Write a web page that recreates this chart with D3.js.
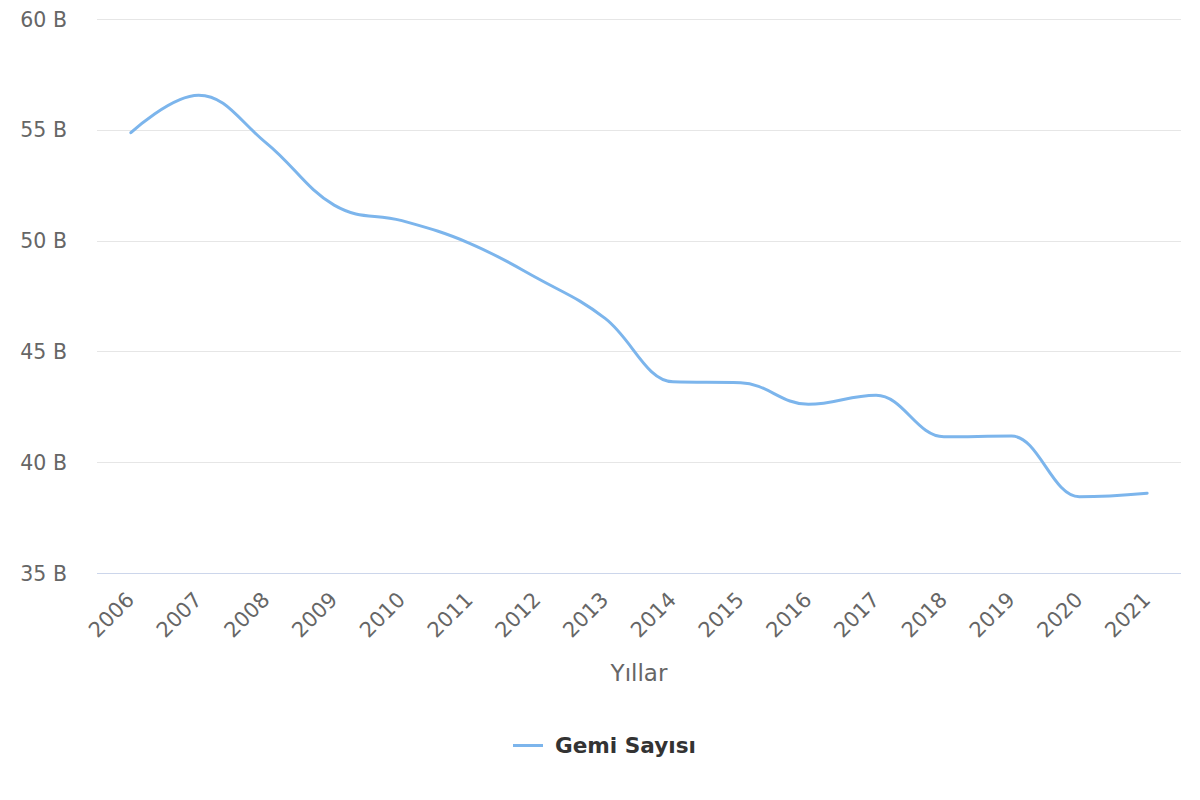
<!DOCTYPE html>
<html>
<head>
<meta charset="utf-8">
<script src="https://cdn.jsdelivr.net/npm/d3@7"></script>
<style>
  html, body { margin: 0; padding: 0; background: #fff; }
  svg { display: block; font-family: "DejaVu Sans", sans-serif; }
</style>
</head>
<body>
<svg id="chart" width="1200" height="800"></svg>
<script>
// ---- data ----
const years = ["2006","2007","2008","2009","2010","2011","2012","2013","2014","2015","2016","2017","2018","2019","2020","2021"];
const gemiSayisi = [54.87, 56.56, 54.4, 51.6, 50.9, 49.88, 48.3, 46.49, 43.63, 43.59, 42.61, 43.02, 41.15, 41.18, 38.44, 38.6];
const yTicks = [35, 40, 45, 50, 55, 60];
const seriesName = "Gemi Sayısı";
const xTitle = "Yıllar";
const tickSuffix = " B";

// ---- layout ----
const W = 1200, H = 800;
const plot = { left: 97, right: 1181, top: 19, bottom: 573 };
const lineColor = "#7cb5ec";

const svg = d3.select("#chart");

const x = d3.scalePoint().domain(years).range([plot.left, plot.right]).padding(0.5);
const y = d3.scaleLinear().domain([35, 60]).range([plot.bottom, plot.top]);

// gridlines
svg.append("g").selectAll("line")
  .data(yTicks.filter(t => t !== 35))
  .join("line")
  .attr("x1", plot.left).attr("x2", plot.right)
  .attr("y1", d => Math.round(y(d)) + 0.5).attr("y2", d => Math.round(y(d)) + 0.5)
  .attr("stroke", "#e6e6e6").attr("stroke-width", 1);

// y axis labels
const yAxis = d3.axisLeft(y).tickValues(yTicks).tickFormat(d => d + tickSuffix).tickSize(0).tickPadding(0);
const gy = svg.append("g").attr("transform", `translate(67,0)`).call(yAxis);
gy.select(".domain").remove();
gy.selectAll("text").attr("font-size", 20.5).attr("fill", "#666666")
  .attr("font-family", "DejaVu Sans, sans-serif").attr("dy", "0.35em").attr("x", 0);

// x axis
const xAxis = d3.axisBottom(x).tickSize(0).tickPadding(0);
const gx = svg.append("g").attr("transform", `translate(0,${plot.bottom})`).call(xAxis);
gx.select(".domain").attr("stroke", "#ccd6eb").attr("d", `M${plot.left},0.5H${plot.right}`);
gx.selectAll(".tick text")
  .attr("font-size", 21).attr("fill", "#666666")
  .attr("font-family", "DejaVu Sans, sans-serif")
  .attr("text-anchor", "end")
  .attr("y", 0).attr("dy", 0)
  .attr("transform", "translate(4,28) rotate(-45)");

// x axis title
svg.append("text")
  .attr("x", (plot.left + plot.right) / 2).attr("y", 681)
  .attr("text-anchor", "middle").attr("font-size", 23).attr("fill", "#666666")
  .text(xTitle);

// Highcharts-like spline curve
function hcSpline(context) {
  let pts = [];
  return {
    areaStart() {}, areaEnd() {},
    lineStart() { pts = []; },
    point(px, py) { pts.push([+px, +py]); },
    lineEnd() {
      const s = 1.5, den = s + 1;
      const rc = [];
      for (let i = 0; i < pts.length; i++) {
        const [px, py] = pts[i];
        if (i === 0) { context.moveTo(px, py); continue; }
        let lcx = px, lcy = py;
        if (i < pts.length - 1) {
          const [lx, ly] = pts[i - 1], [nx, ny] = pts[i + 1];
          lcx = (s * px + lx) / den; lcy = (s * py + ly) / den;
          let rcx = (s * px + nx) / den, rcy = (s * py + ny) / den;
          let corr = 0;
          if (rcx !== lcx) corr = ((rcy - lcy) * (rcx - px)) / (rcx - lcx) + py - rcy;
          lcy += corr; rcy += corr;
          if (lcy > ly && lcy > py) { lcy = Math.max(ly, py); rcy = 2 * py - lcy; }
          else if (lcy < ly && lcy < py) { lcy = Math.min(ly, py); rcy = 2 * py - lcy; }
          if (rcy > ny && rcy > py) { rcy = Math.max(ny, py); lcy = 2 * py - rcy; }
          else if (rcy < ny && rcy < py) { rcy = Math.min(ny, py); lcy = 2 * py - rcy; }
          rc[i] = [rcx, rcy];
        }
        const prev = rc[i - 1] || pts[i - 1];
        context.bezierCurveTo(prev[0], prev[1], lcx, lcy, px, py);
      }
    }
  };
}

const line = d3.line()
  .x((d, i) => x(years[i]))
  .y(d => y(d))
  .curve(hcSpline);

svg.append("path")
  .datum(gemiSayisi)
  .attr("d", line)
  .attr("fill", "none")
  .attr("stroke", lineColor)
  .attr("stroke-width", 3)
  .attr("stroke-linejoin", "round")
  .attr("stroke-linecap", "round");

// legend
const lg = svg.append("g");
lg.append("line").attr("x1", 513).attr("x2", 543).attr("y1", 745.5).attr("y2", 745.5)
  .attr("stroke", lineColor).attr("stroke-width", 3);
lg.append("text").attr("x", 555).attr("y", 753)
  .attr("font-size", 21.6).attr("font-weight", "bold").attr("fill", "#333333")
  .text(seriesName);
</script>
</body>
</html>
